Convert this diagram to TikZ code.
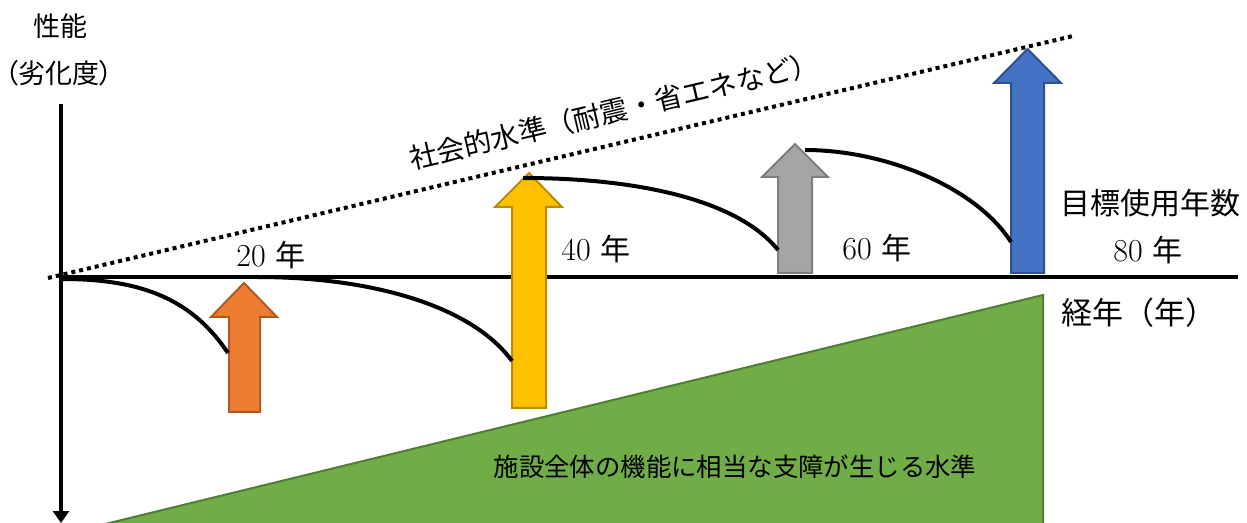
\documentclass[tikz,border=0pt]{standalone}
\usepackage{fontspec}
\usetikzlibrary{arrows.meta}
\newfontfamily\jpfont{Noto Sans CJK JP}
\newfontfamily\jppfont[RawFeature=+palt]{Noto Sans CJK JP}
\definecolor{orangeF}{HTML}{ED7D31}\definecolor{orangeD}{HTML}{AE5A21}
\definecolor{yellowF}{HTML}{FFC000}\definecolor{yellowD}{HTML}{BC8C00}
\definecolor{grayF}{HTML}{A5A5A5}\definecolor{grayD}{HTML}{7F7F7F}
\definecolor{blueF}{HTML}{4472C4}\definecolor{blueD}{HTML}{2F528F}
\definecolor{greenF}{HTML}{70AD47}\definecolor{greenD}{HTML}{507E32}
\newcommand\blockarr[8]{% fill, draw, shaftL, shaftR, headL, headR, bottom, headbase; tip via \tipx,\tipy
  \path[fill=#1,draw=#2,line width=1pt,line join=miter]
    (#3,#7) -- (#3,#8) -- (#5,#8) -- (\tipx,\tipy) -- (#6,#8) -- (#4,#8) -- (#4,#7) -- cycle;}
\tikzset{
  axis/.style={line width=2pt,black},
  decay/.style={line width=2pt,black},
  jp/.style={font=\jpfont\fontsize{#1}{#1}\selectfont,inner sep=0pt},
  yr/.style={font=\fontsize{16}{16}\selectfont,inner sep=0pt},
}
\begin{document}
\begin{tikzpicture}[x=0.5pt,y=-0.5pt]
\useasboundingbox (0,0) rectangle (1247,523);
% green region
\path[fill=greenF,draw=greenD,line width=1pt] (97,526) -- (1043,295) -- (1043,526) -- cycle;
% axes
\coordinate (vtop) at (61,104);
\coordinate (vbot) at (61,523);
\coordinate (hL) at (61,277);
\coordinate (hR) at (1238,277);
\draw[axis,-{Triangle[width=8pt,length=6pt]}] (vtop) -- (vbot);
\draw[axis] (hL) -- (hR);
% social level dotted line
\coordinate (dA) at (48,278);
\coordinate (dB) at (1073,36);
\draw[line width=2pt,dash pattern=on 2pt off 2pt] (dA) -- (dB);
% block arrows
\def\tipx{244}\def\tipy{283}
\blockarr{orangeF}{orangeD}{229}{260}{211}{277}{412}{317}
\def\tipx{529}\def\tipy{173}
\blockarr{yellowF}{yellowD}{512}{546}{495}{562}{408}{207}
\def\tipx{795}\def\tipy{144}
\blockarr{grayF}{grayD}{778}{812}{762}{828}{273}{177}
\def\tipx{1027.5}\def\tipy{49}
\blockarr{blueF}{blueD}{1011}{1044}{994}{1061}{273}{83}
% decay curves
\coordinate (c1a) at (62,279);  \coordinate (c1b) at (228,353);
\coordinate (c2a) at (257,277); \coordinate (c2b) at (512,361);
\coordinate (c3a) at (523,178); \coordinate (c3b) at (778,250);
\coordinate (c4a) at (805,150); \coordinate (c4b) at (1011,242);
\draw[decay] (c1a) .. controls (145,279) and (193,301) .. (c1b);
\draw[decay] (c2a) .. controls (372,277) and (472,306) .. (c2b);
\draw[decay] (c3a) .. controls (638,178) and (738,200) .. (c3b);
\draw[decay] (c4a) .. controls (885,150) and (976,187) .. (c4b);
% labels
\node[jp=13.5] (perf) at (60,26) {性能};
\node[font=\jppfont\fontsize{13.5}{13.5}\selectfont,inner sep=0pt] (deg) at (59,73) {（劣化度）};
\node[jp=14,rotate=13.3] (soc) at (614,111) {社会的水準（耐震・省エネなど）};
\node[yr] (y20) at (271,255) {20 {\jpfont\fontsize{15}{15}\selectfont 年}};
\node[yr] (y40) at (596,249) {40 {\jpfont\fontsize{15}{15}\selectfont 年}};
\node[yr] (y60) at (877,248) {60 {\jpfont\fontsize{15}{15}\selectfont 年}};
\node[yr] (y80) at (1148,250) {80 {\jpfont\fontsize{15}{15}\selectfont 年}};
\node[jp=15] (target) at (1150,203) {目標使用年数};
\node[jp=15.5] (elapsed) at (1139,313) {経年（年）};
\node[jp=12.7] (limit) at (735,467) {施設全体の機能に相当な支障が生じる水準};
\end{tikzpicture}
\end{document}
